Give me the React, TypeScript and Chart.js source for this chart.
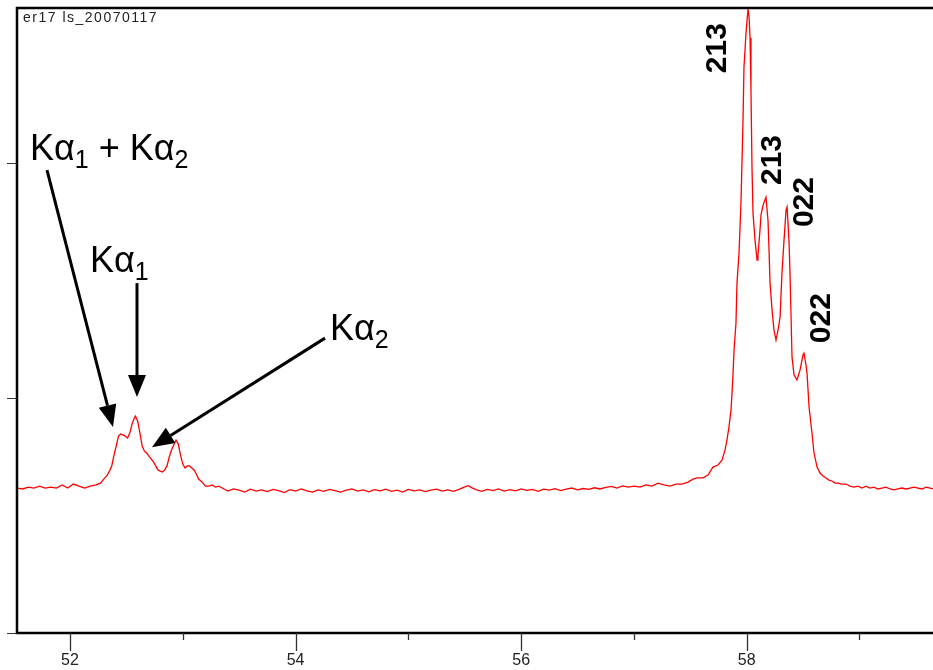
import { useEffect, useRef } from "react";
import { Chart, registerables } from "chart.js";

Chart.register(...registerables);

const FONT = "'Liberation Sans', Arial, Helvetica, sans-serif";

const chartTitle = "er17 ls_20070117";

// 2θ (degrees)
const twoTheta = [
  51.53, 51.58, 51.63, 51.68, 51.73, 51.78, 51.83, 51.88, 51.93, 51.98,
  52.03, 52.08, 52.13, 52.18, 52.23, 52.27, 52.30, 52.33, 52.35, 52.37,
  52.39, 52.41, 52.43, 52.45, 52.47, 52.49, 52.51, 52.53, 52.55, 52.57,
  52.58, 52.60, 52.62, 52.64, 52.66, 52.68, 52.70, 52.72, 52.74, 52.76,
  52.78, 52.80, 52.82, 52.84, 52.86, 52.88, 52.90, 52.92, 52.94, 52.96,
  52.98, 53.00, 53.02, 53.04, 53.06, 53.08, 53.10, 53.12, 53.14, 53.16,
  53.18, 53.20, 53.23, 53.26, 53.29, 53.32, 53.35, 53.40, 53.45,
  53.50, 53.55, 53.60, 53.65, 53.70, 53.75, 53.80, 53.85, 53.90, 53.95,
  54.00, 54.05, 54.10, 54.15, 54.20, 54.25, 54.30, 54.35, 54.40, 54.45,
  54.50, 54.55, 54.60, 54.65, 54.70, 54.75, 54.80, 54.85, 54.90, 54.95,
  55.00, 55.05, 55.10, 55.15, 55.20, 55.25, 55.30, 55.35, 55.40, 55.45,
  55.50, 55.53, 55.56, 55.60,
  55.65, 55.70, 55.75, 55.80, 55.85, 55.90, 55.95, 56.00, 56.05, 56.10,
  56.15, 56.20, 56.25, 56.30, 56.35, 56.40, 56.45, 56.50, 56.55, 56.60,
  56.65, 56.70, 56.75, 56.80, 56.85, 56.90, 56.95,
  57.001, 57.054, 57.107, 57.160, 57.214, 57.267, 57.320, 57.373, 57.426, 57.480,
  57.524, 57.560, 57.613, 57.657, 57.701, 57.746, 57.781, 57.808, 57.825, 57.843,
  57.861, 57.870, 57.879, 57.888, 57.905, 57.914, 57.932, 57.950, 57.967, 57.976,
  57.994, 58.003, 58.012, 58.021, 58.030, 58.038, 58.047, 58.056, 58.074, 58.092,
  58.100, 58.118, 58.127, 58.145, 58.171, 58.189, 58.198, 58.207, 58.225, 58.242,
  58.260, 58.278, 58.296, 58.313, 58.331, 58.349, 58.358, 58.375, 58.384, 58.402,
  58.420, 58.446, 58.473, 58.499, 58.508, 58.526, 58.535, 58.553, 58.579, 58.597,
  58.624, 58.650, 58.677, 58.703, 58.730, 58.757, 58.783, 58.810, 58.845, 58.881,
  58.916, 58.952, 58.987, 59.023, 59.058, 59.093, 59.129, 59.164, 59.200, 59.235,
  59.271, 59.306, 59.342, 59.377, 59.413, 59.448, 59.484, 59.519, 59.555, 59.590,
  59.626, 59.652,
];

// intensity (counts)
const counts = [
  617, 613, 621, 617, 625, 617, 621, 617, 630, 617,
  634, 625, 617, 625, 630, 638, 655, 672, 689, 711,
  757, 796, 838, 847, 843, 838, 830, 851, 889, 915,
  923, 902, 851, 796, 774, 766, 753, 740, 728, 711,
  694, 689, 685, 694, 711, 749, 779, 800, 821, 804,
  757, 719, 702, 711, 711, 702, 694, 677, 655, 647,
  638, 625, 625, 630, 621, 625, 617, 604, 613,
  608, 600, 612, 604, 609, 602, 611, 606, 598, 610,
  604, 613, 605, 600, 609, 603, 611, 606, 600, 608,
  613, 604, 609, 601, 610, 605, 612, 603, 608, 600,
  611, 605, 609, 602, 608, 612, 604, 609, 603, 611,
  622, 627, 619, 610,
  603, 611, 606, 613, 604, 610, 605, 613, 607, 611,
  603, 612, 608, 614, 606, 612, 617, 609, 615, 611,
  618, 613, 620, 624, 617, 626, 621,
  625, 621, 630, 625, 638, 630, 625, 634, 634, 642,
  655, 660, 660, 672, 706, 715, 736, 779, 821, 877,
  949, 1021, 1106, 1204, 1319, 1489, 1617, 1842, 2174, 2408,
  2553, 2608, 2655, 2621, 2532, 2310, 1983, 1787, 1672, 1587,
  1608, 1715, 1779, 1821, 1855, 1757, 1630, 1489, 1374, 1289,
  1247, 1289, 1345, 1532, 1672, 1800, 1813, 1672, 1532, 1174,
  1098, 1077, 1119, 1183, 1191, 1140, 1106, 962, 851, 766,
  706, 681, 668, 660, 651, 647, 638, 638, 634, 634,
  625, 621, 625, 617, 625, 617, 621, 613, 617, 621,
  613, 609, 613, 617, 613, 617, 621, 617, 613, 621,
  617, 613,
];

// axis ticks
const xTickValues = [52, 53, 54, 55, 56, 57, 58, 59];
const xLabelValues = [52, 54, 56, 58];
const yTickValues = [0, 1000, 2000];

// Miller-index labels on the peaks
const peakLabels = ["213", "213", "022", "022"];
const peakLabelX = [57.746, 58.233, 58.517, 58.668];
const peakLabelY = [2489, 2013, 1834, 1340];

// K-alpha annotations: [text, subscript] pieces, anchor (2θ, counts)
const kaTexts = [
  [["Kα", "1"], [" + Kα", "2"]],
  [["Kα", "1"]],
  [["Kα", "2"]],
];
const kaX = [51.645, 52.177, 54.305];
const kaY = [2012, 1535, 1245];

// arrows: start and tip (2θ, counts)
const arrowStartX = [51.796, 52.594, 54.261];
const arrowStartY = [1970, 1489, 1255];
const arrowTipX = [52.381, 52.594, 52.727];
const arrowTipY = [877, 1004, 791];

const X_MIN = 51.53;
const X_MAX = 59.652;
const Y_MIN = 0;
const Y_MAX = 2660;

function drawArrow(ctx: CanvasRenderingContext2D, x1: number, y1: number, x2: number, y2: number) {
  const ang = Math.atan2(y2 - y1, x2 - x1);
  const headLen = 22;
  const headHalf = 9;
  const bx = x2 - headLen * Math.cos(ang);
  const by = y2 - headLen * Math.sin(ang);
  ctx.save();
  ctx.strokeStyle = "#000";
  ctx.fillStyle = "#000";
  ctx.lineWidth = 3;
  ctx.beginPath();
  ctx.moveTo(x1, y1);
  ctx.lineTo(bx, by);
  ctx.stroke();
  ctx.beginPath();
  ctx.moveTo(x2, y2);
  ctx.lineTo(bx + headHalf * Math.sin(ang), by - headHalf * Math.cos(ang));
  ctx.lineTo(bx - headHalf * Math.sin(ang), by + headHalf * Math.cos(ang));
  ctx.closePath();
  ctx.fill();
  ctx.restore();
}

const annotationPlugin = {
  id: "annotations",
  afterDraw(chart: any) {
    const ctx: CanvasRenderingContext2D = chart.ctx;
    const { left, top, right, bottom } = chart.chartArea;
    const xs = chart.scales.x;
    const ys = chart.scales.y;

    ctx.save();
    // frame
    ctx.strokeStyle = "#000";
    ctx.lineWidth = 2.5;
    ctx.beginPath();
    ctx.moveTo(right + 5, top);
    ctx.lineTo(left, top);
    ctx.lineTo(left, bottom);
    ctx.lineTo(right + 5, bottom);
    ctx.stroke();

    // x tick marks
    ctx.strokeStyle = "#333";
    ctx.lineWidth = 1.3;
    xTickValues.forEach((v) => {
      const px = Math.round(xs.getPixelForValue(v)) + 0.5;
      const len = xLabelValues.includes(v) ? 18 : 7;
      ctx.beginPath();
      ctx.moveTo(px, bottom);
      ctx.lineTo(px, bottom + len);
      ctx.stroke();
    });
    // y tick marks
    ctx.lineWidth = 1;
    yTickValues.forEach((v) => {
      const py = Math.round(ys.getPixelForValue(v)) + 0.5;
      ctx.beginPath();
      ctx.moveTo(left - 10, py);
      ctx.lineTo(left, py);
      ctx.stroke();
    });

    // sample title
    ctx.fillStyle = "#222";
    ctx.font = `14px ${FONT}`;
    ctx.textBaseline = "top";
    ctx.textAlign = "left";
    (ctx as any).letterSpacing = "1.5px";
    ctx.fillText(chartTitle, left + 6, top + 3);
    (ctx as any).letterSpacing = "0px";

    // arrows
    for (let i = 0; i < arrowStartX.length; i++) {
      drawArrow(
        ctx,
        xs.getPixelForValue(arrowStartX[i]),
        ys.getPixelForValue(arrowStartY[i]),
        xs.getPixelForValue(arrowTipX[i]),
        ys.getPixelForValue(arrowTipY[i])
      );
    }

    // K-alpha labels
    ctx.fillStyle = "#000";
    ctx.textBaseline = "alphabetic";
    for (let i = 0; i < kaTexts.length; i++) {
      let x = xs.getPixelForValue(kaX[i]);
      const y = ys.getPixelForValue(kaY[i]);
      kaTexts[i].forEach(([main, sub]) => {
        ctx.font = `36px ${FONT}`;
        ctx.fillText(main, x, y);
        x += ctx.measureText(main).width;
        ctx.font = `25px ${FONT}`;
        ctx.fillText(sub, x, y + 8);
        x += ctx.measureText(sub).width;
      });
    }

    // peak index labels (rotated)
    ctx.font = `bold 30px ${FONT}`;
    ctx.textAlign = "center";
    ctx.textBaseline = "middle";
    for (let i = 0; i < peakLabels.length; i++) {
      ctx.save();
      ctx.translate(xs.getPixelForValue(peakLabelX[i]), ys.getPixelForValue(peakLabelY[i]));
      ctx.rotate(-Math.PI / 2);
      ctx.fillText(peakLabels[i], 0, 0);
      ctx.restore();
    }
    ctx.restore();
  },
};

export default function App() {
  const canvasRef = useRef<HTMLCanvasElement | null>(null);

  useEffect(() => {
    const canvas = canvasRef.current;
    if (!canvas) return;
    const data = twoTheta.map((x, i) => ({ x, y: counts[i] }));
    const chart = new Chart(canvas, {
      type: "line",
      data: {
        datasets: [
          {
            data,
            borderColor: "rgb(255,0,0)",
            borderWidth: 1.3,
            pointRadius: 0,
            tension: 0,
            fill: false,
          },
        ],
      },
      options: {
        animation: false,
        responsive: false,
        devicePixelRatio: 1,
        layout: { padding: { left: 17, top: 8, right: 0, bottom: -19 } },
        plugins: {
          legend: { display: false },
          tooltip: { enabled: false },
          title: { display: false },
        },
        scales: {
          x: {
            type: "linear",
            min: X_MIN,
            max: X_MAX,
            border: { display: false },
            grid: { display: false, drawTicks: false },
            afterBuildTicks: (scale: any) => {
              scale.ticks = xLabelValues.map((v) => ({ value: v }));
            },
            ticks: {
              autoSkip: false,
              maxRotation: 0,
              padding: 20,
              color: "#222",
              font: { family: FONT, size: 16, lineHeight: 1 },
              callback: (v: any) => String(v),
            },
          },
          y: {
            type: "linear",
            min: Y_MIN,
            max: Y_MAX,
            border: { display: false },
            grid: { display: false, drawTicks: false },
            ticks: { display: false },
          },
        },
      },
      plugins: [annotationPlugin],
    });
    return () => chart.destroy();
  }, []);

  return (
    <div style={{ position: "absolute", left: 0, top: 0, width: 933, height: 670, background: "#fff" }}>
      <canvas ref={canvasRef} width={933} height={670} style={{ display: "block" }} />
    </div>
  );
}
